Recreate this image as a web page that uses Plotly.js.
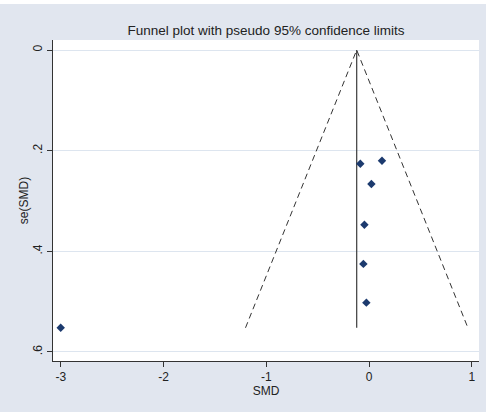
<!DOCTYPE html>
<html><head><meta charset="utf-8">
<script src="https://cdn.plot.ly/plotly-3.0.1.min.js"></script>
<style>html,body{margin:0;padding:0;background:#fff;}#chart{position:absolute;left:0;top:4px;width:486px;height:408px;}</style>
</head><body><div id="chart"></div>
<script>
const smd = [-0.085, 0.126, 0.023, -0.045, -0.055, -0.026, -3.0];
const se  = [0.226, 0.220, 0.266, 0.347, 0.425, 0.502, 0.552];
const pooled = -0.12;
const yTickVals = [0, 0.2, 0.4, 0.6];
const yTickText = ['0', '.2', '.4', '.6'];
const xTickVals = [-3, -2, -1, 0, 1];
const xTickText = ['-3', '-2', '-1', '0', '1'];

const seMax = Math.max(...se);
const z = 1.96;

const traces = [
  {x:[pooled - z*seMax, pooled, pooled + z*seMax], y:[seMax, 0, seMax], mode:'lines',
   line:{color:'#333', width:1, dash:'6px,4px'}, hoverinfo:'skip', showlegend:false},
  {x:[pooled, pooled], y:[0, seMax], mode:'lines', line:{color:'#3a3a3a', width:1.2},
   hoverinfo:'skip', showlegend:false},
  {x:smd, y:se, mode:'markers', type:'scatter',
   marker:{symbol:'diamond', size:6.5, color:'#1c3a6e'}, showlegend:false}
];

const layout = {
  width:486, height:408,
  margin:{l:53, r:7, t:36, b:51},
  paper_bgcolor:'#E1E6EF', plot_bgcolor:'#ffffff',
  font:{family:'Liberation Sans, Arial, sans-serif', size:12, color:'#222'},
  title:{text:'Funnel plot with pseudo 95% confidence limits', font:{size:13.5, color:'#222'},
         x:0.5, xref:'paper', y:1, yref:'paper', yanchor:'bottom', pad:{b:5}},
  xaxis:{range:[-3.075, 1.07], tickvals:xTickVals, ticktext:xTickText, ticks:'outside', ticklen:5, tickcolor:'#333',
         showgrid:false, zeroline:false, showline:true, linecolor:'#333', linewidth:1,
         title:{text:'SMD', standoff:0, font:{size:12}}, tickfont:{size:12}},
  yaxis:{range:[0.618, -0.02], tickvals:yTickVals, ticktext:yTickText, tickangle:-90,
         ticks:'outside', ticklen:5, tickcolor:'#333',
         showgrid:true, gridcolor:'#dde5ef', gridwidth:1, zeroline:false,
         showline:true, linecolor:'#333', linewidth:1,
         title:{text:'se(SMD)', standoff:0, font:{size:12}}, tickfont:{size:12}}
};
Plotly.newPlot('chart', traces, layout, {displayModeBar:false, staticPlot:true});
</script></body></html>
